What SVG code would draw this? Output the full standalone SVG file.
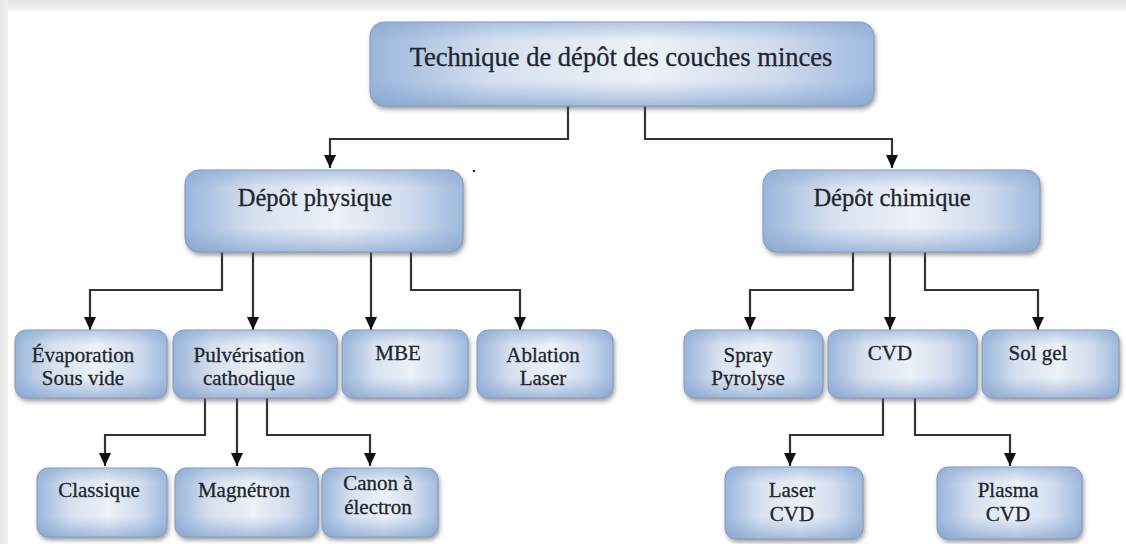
<svg xmlns="http://www.w3.org/2000/svg" width="1126" height="544" viewBox="0 0 1126 544">
<defs>
  <linearGradient id="topShade" x1="0" y1="0" x2="0" y2="1">
    <stop offset="0" stop-color="#e4e4e4"/>
    <stop offset="1" stop-color="#f4f4f4"/>
  </linearGradient>
  <linearGradient id="leftShade" x1="0" y1="0" x2="1" y2="0">
    <stop offset="0" stop-color="#e4e4e4"/>
    <stop offset="1" stop-color="#f4f4f4"/>
  </linearGradient>
  <linearGradient id="boxH" x1="0" y1="0" x2="1" y2="0">
    <stop offset="0" stop-color="#9ab5db"/>
    <stop offset="0.25" stop-color="#d6e1f0"/>
    <stop offset="0.55" stop-color="#edf1f8"/>
    <stop offset="0.8" stop-color="#d0dcee"/>
    <stop offset="1" stop-color="#9fb9de"/>
  </linearGradient>
  <linearGradient id="boxV" x1="0" y1="0" x2="0" y2="1">
    <stop offset="0" stop-color="#88a6d0" stop-opacity="0.55"/>
    <stop offset="0.22" stop-color="#88a6d0" stop-opacity="0"/>
    <stop offset="0.7" stop-color="#88a6d0" stop-opacity="0"/>
    <stop offset="1" stop-color="#7f9fcc" stop-opacity="0.65"/>
  </linearGradient>
  <filter id="shadow" x="-10%" y="-10%" width="120%" height="130%">
    <feDropShadow dx="1.5" dy="3" stdDeviation="2" flood-color="#505a66" flood-opacity="0.55"/>
  </filter>
  <marker id="arrow" viewBox="0 0 13 12" refX="13" refY="6" markerWidth="13" markerHeight="12" markerUnits="userSpaceOnUse" orient="auto">
    <path d="M0,0 L13,6 L0,12 Z" fill="#111"/>
  </marker>
  <style>
    .bx { fill: url(#boxH); stroke: #8797b0; stroke-width: 1; filter: url(#shadow); }
    .ov { fill: url(#boxV); stroke: none; }
    text { font-family: "Liberation Serif", "Times New Roman", serif; fill: #22262e; text-anchor: middle; stroke: #22262e; stroke-width: 0.3; }
    .t0 { font-size: 26.5px; }
    .t1 { font-size: 24.5px; }
    .t2 { font-size: 21px; }
    .t3 { font-size: 21px; }
    .cn { fill: none; stroke: #333; stroke-width: 2.2; }
    .ar { marker-end: url(#arrow); }
  </style>
</defs>

<rect x="0" y="0" width="1126" height="544" fill="#ffffff"/>
<rect x="0" y="0" width="1126" height="11" fill="url(#topShade)"/>
<rect x="0" y="0" width="8" height="544" fill="url(#leftShade)"/>

<g id="connectors">
  <path class="cn ar" d="M568,106 V139 H330 V168"/>
  <path class="cn ar" d="M645,106 V139 H892 V168"/>
  <path class="cn ar" d="M222,252 V290 H90 V330"/>
  <path class="cn ar" d="M253,252 V330"/>
  <path class="cn ar" d="M371,252 V330"/>
  <path class="cn ar" d="M411,252 V290 H520 V330"/>
  <path class="cn ar" d="M853,252 V290 H750 V330"/>
  <path class="cn ar" d="M890,252 V330"/>
  <path class="cn ar" d="M925,252 V290 H1038 V330"/>
  <path class="cn ar" d="M205,398 V435 H105 V466"/>
  <path class="cn ar" d="M237,398 V466"/>
  <path class="cn ar" d="M267,398 V435 H370 V466"/>
  <path class="cn ar" d="M883,398 V435 H790 V466"/>
  <path class="cn ar" d="M915,398 V435 H1010 V466"/>
</g>

<circle cx="474" cy="171" r="1.3" fill="#333"/>

<g id="n-root">
  <rect class="bx" x="370" y="22" width="504" height="84" rx="14"/>
  <rect class="ov" x="370" y="22" width="504" height="84" rx="14"/>
  <text class="t0" x="621" y="66">Technique de dépôt des couches minces</text>
</g>

<g id="n-physique">
  <rect class="bx" x="185" y="170" width="278" height="82" rx="14"/>
  <rect class="ov" x="185" y="170" width="278" height="82" rx="14"/>
  <text class="t1" x="315" y="206">Dépôt physique</text>
</g>

<g id="n-chimique">
  <rect class="bx" x="763" y="170" width="277" height="82" rx="14"/>
  <rect class="ov" x="763" y="170" width="277" height="82" rx="14"/>
  <text class="t1" x="892" y="206">Dépôt chimique</text>
</g>

<g id="n-evaporation">
  <rect class="bx" x="15" y="330" width="152" height="68" rx="11"/>
  <rect class="ov" x="15" y="330" width="152" height="68" rx="11"/>
  <text class="t2" x="83" y="362">Évaporation</text>
  <text class="t2" x="83" y="385">Sous vide</text>
</g>

<g id="n-pulverisation">
  <rect class="bx" x="173" y="330" width="164" height="68" rx="11"/>
  <rect class="ov" x="173" y="330" width="164" height="68" rx="11"/>
  <text class="t2" x="249" y="362">Pulvérisation</text>
  <text class="t2" x="249" y="385">cathodique</text>
</g>

<g id="n-mbe">
  <rect class="bx" x="342" y="330" width="126" height="68" rx="11"/>
  <rect class="ov" x="342" y="330" width="126" height="68" rx="11"/>
  <text class="t2" x="398" y="360">MBE</text>
</g>

<g id="n-ablation">
  <rect class="bx" x="477" y="330" width="136" height="68" rx="11"/>
  <rect class="ov" x="477" y="330" width="136" height="68" rx="11"/>
  <text class="t2" x="543" y="362">Ablation</text>
  <text class="t2" x="543" y="385">Laser</text>
</g>

<g id="n-spray">
  <rect class="bx" x="684" y="330" width="139" height="68" rx="11"/>
  <rect class="ov" x="684" y="330" width="139" height="68" rx="11"/>
  <text class="t2" x="748" y="362">Spray</text>
  <text class="t2" x="748" y="385">Pyrolyse</text>
</g>

<g id="n-cvd">
  <rect class="bx" x="828" y="330" width="149" height="68" rx="11"/>
  <rect class="ov" x="828" y="330" width="149" height="68" rx="11"/>
  <text class="t2" x="890" y="360">CVD</text>
</g>

<g id="n-solgel">
  <rect class="bx" x="982" y="330" width="137" height="68" rx="11"/>
  <rect class="ov" x="982" y="330" width="137" height="68" rx="11"/>
  <text class="t2" x="1038" y="360">Sol gel</text>
</g>

<g id="n-classique">
  <rect class="bx" x="37" y="468" width="130" height="69" rx="11"/>
  <rect class="ov" x="37" y="468" width="130" height="69" rx="11"/>
  <text class="t3" x="99" y="497">Classique</text>
</g>

<g id="n-magnetron">
  <rect class="bx" x="175" y="468" width="143" height="69" rx="11"/>
  <rect class="ov" x="175" y="468" width="143" height="69" rx="11"/>
  <text class="t3" x="244" y="497">Magnétron</text>
</g>

<g id="n-canon">
  <rect class="bx" x="322" y="468" width="116" height="69" rx="11"/>
  <rect class="ov" x="322" y="468" width="116" height="69" rx="11"/>
  <text class="t3" x="378" y="490">Canon à</text>
  <text class="t3" x="378" y="514">électron</text>
</g>

<g id="n-lasercvd">
  <rect class="bx" x="725" y="467" width="138" height="72" rx="11"/>
  <rect class="ov" x="725" y="467" width="138" height="72" rx="11"/>
  <text class="t3" x="792" y="497">Laser</text>
  <text class="t3" x="792" y="521">CVD</text>
</g>

<g id="n-plasmacvd">
  <rect class="bx" x="937" y="467" width="145" height="72" rx="11"/>
  <rect class="ov" x="937" y="467" width="145" height="72" rx="11"/>
  <text class="t3" x="1008" y="497">Plasma</text>
  <text class="t3" x="1008" y="521">CVD</text>
</g>
</svg>
